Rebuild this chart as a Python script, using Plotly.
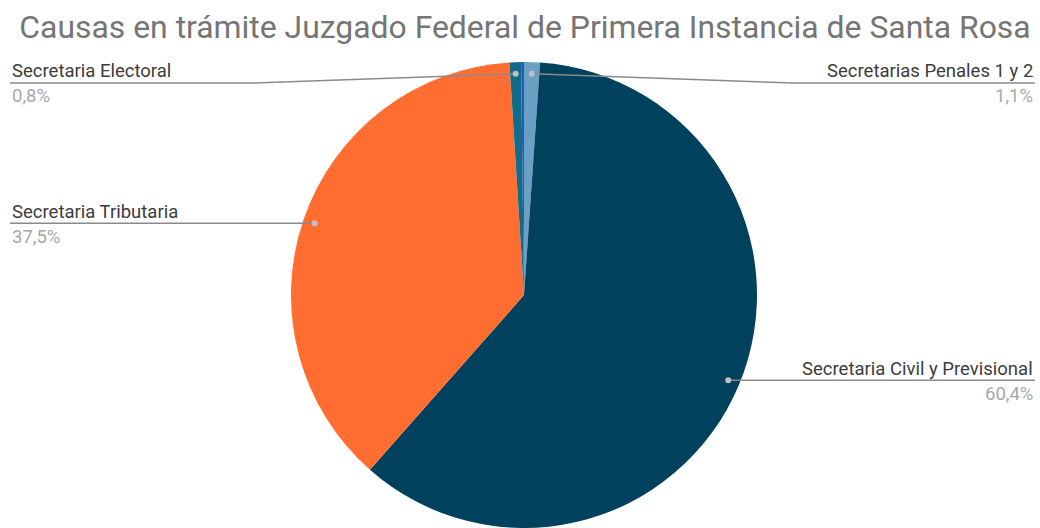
import math
import plotly.graph_objects as go

# ---- data ----
categories = ["Secretarias Penales 1 y 2", "Secretaria Civil y Previsional",
              "Secretaria Tributaria", "Secretaria Electoral", "Otras"]
values = [1.1, 60.4, 37.5, 0.8, 0.2]
show_label = [True, True, True, True, False]
colors = ["#6a9fc6", "#00415e", "#ff6d31", "#136b8a", "#1f5fb0"]

title_text = "Causas en trámite Juzgado Federal de Primera Instancia de Santa Rosa"

# ---- layout geometry (pixels) ----
W, H = 1040, 528
top_pix = 62
R = (H - top_pix) / 2.0
cx, cy = 524.0, top_pix + R
dom_x0 = (2 * cx - W) / W

def px(x):
    return x / W

def py(y):
    return 1 - y / H

fig = go.Figure()
fig.add_trace(go.Pie(
    labels=categories, values=values, sort=False, direction="clockwise",
    rotation=0, marker=dict(colors=colors, line=dict(width=0)),
    textinfo="none", hoverinfo="label+percent", showlegend=False,
    domain=dict(x=[dom_x0, 1], y=[0, 1 - top_pix / H]),
))

shapes = []
annotations = []
total = sum(values)
cum = 0.0
line_col = "#8a8a8a"
for name, v, show in zip(categories, values, show_label):
    mid = (cum + v / 2) / total * 2 * math.pi
    cum += v
    if not show:
        continue
    dx = 0.95 * R * math.sin(mid)
    dy = -0.95 * R * math.cos(mid)
    dot_x, dot_y = cx + dx, cy + dy
    left = math.sin(mid) < 0
    line_y = max(dot_y, 83)
    end_x = 10 if left else 1035
    if abs(line_y - dot_y) > 1:
        bend_x = cx - 270 if left else cx + 270
        path = (f"M {px(dot_x)} {py(dot_y)} L {px(bend_x)} {py(line_y)} "
                f"L {px(end_x)} {py(line_y)}")
    else:
        path = f"M {px(dot_x)} {py(dot_y)} L {px(end_x)} {py(line_y)}"
    shapes.append(dict(type="path", path=path, xref="paper", yref="paper",
                       line=dict(color=line_col, width=1.5)))
    shapes.append(dict(type="circle", xref="paper", yref="paper",
                       x0=px(dot_x - 3), x1=px(dot_x + 3),
                       y0=py(dot_y + 3), y1=py(dot_y - 3),
                       fillcolor="#c0c0c0", line=dict(width=0)))
    pct = f"{v / total * 100:.1f}".replace(".", ",") + "%"
    anchor = "left" if left else "right"
    annotations.append(dict(x=px(end_x), y=py(line_y - 11.5), xref="paper", yref="paper",
                            text=name, showarrow=False, xanchor=anchor, yanchor="middle",
                            font=dict(family="Roboto", size=18.5, color="#3c3c3c")))
    annotations.append(dict(x=px(end_x), y=py(line_y + 13.5), xref="paper", yref="paper",
                            text=pct, showarrow=False, xanchor=anchor, yanchor="middle",
                            font=dict(family="Roboto", size=18.5, color="#a8a8a8")))

fig.update_layout(
    width=W, height=H,
    margin=dict(l=0, r=0, t=0, b=0),
    paper_bgcolor="white", plot_bgcolor="white",
    title=dict(text=title_text, x=525 / W, xanchor="center", y=1 - 27 / H,
               yanchor="middle", yref="container",
               font=dict(family="Roboto", size=31.9, color="#757575")),
    shapes=shapes, annotations=annotations,
)

fig.write_html("out.html", config={"displayModeBar": False},
               post_script="document.body.style.margin='0';")
